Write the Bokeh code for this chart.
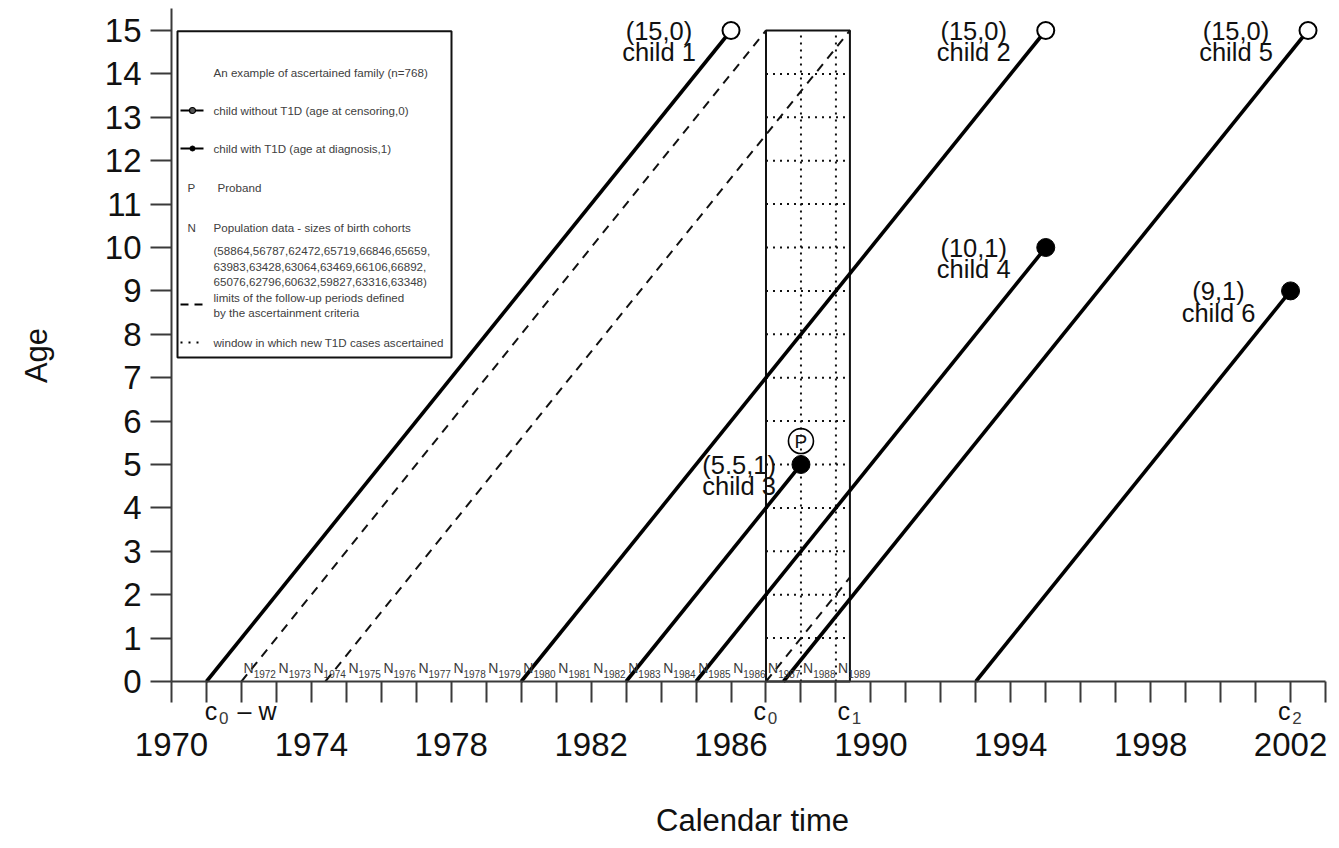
import math
from bokeh.plotting import figure
from bokeh.models import FixedTicker, Range1d
from bokeh.core.properties import value
from bokeh.embed import file_html
from bokeh.resources import INLINE

FONT = "Liberation Sans"

# ---------------- data ----------------
children = ["child 1", "child 2", "child 3", "child 4", "child 5", "child 6"]
birth_year = [1971, 1980, 1983, 1985, 1987.5, 1993]
end_age = [15, 15, 5, 10, 15, 9]
t1d_status = [0, 0, 1, 1, 0, 1]
reported_age = ["15", "15", "5.5", "10", "15", "9"]
proband_child = "child 3"

c0, c1, c2, w = 1987, 1989.4, 2002, 15

cohort_years = list(range(1972, 1990))
cohort_sizes = [58864, 56787, 62472, 65719, 66846, 65659,
                63983, 63428, 63064, 63469, 66106, 66892,
                65076, 62796, 60632, 59827, 63316, 63348]

x_ticks = list(range(1970, 2004))
x_label_years = list(range(1970, 2004, 4))
y_ticks = list(range(0, 16))

x_title = "Calendar time"
y_title = "Age"
legend_title = "An example of ascertained family (n=768)"
legend_without = "child without T1D (age at censoring,0)"
legend_with = "child with T1D (age at diagnosis,1)"
legend_proband = "Proband"
legend_pop = "Population data - sizes of birth cohorts"
legend_limits = ["limits of the follow-up periods defined", "by the ascertainment criteria"]
legend_window = "window in which new T1D cases ascertained"

# ---------------- layout (pixels) ----------------
W, H = 1339, 848
PX_X0, PX_PER_YEAR = 171, 34.97
PX_Y0, PX_PER_AGE = 681, 43.4
X_START = 1970 - PX_X0 / PX_PER_YEAR
X_END = 1970 + (W - PX_X0) / PX_PER_YEAR
Y_END = PX_Y0 / PX_PER_AGE
Y_START = -(H - PX_Y0) / PX_PER_AGE


def lx(px):
    return 1970 + (px - PX_X0) / PX_PER_YEAR


def ly(py):
    return (PX_Y0 - py) / PX_PER_AGE


INK = "#111111"
GREY = "#3a3a3a"

p = figure(width=W, height=H, x_range=Range1d(X_START, X_END), y_range=Range1d(Y_START, Y_END),
           output_backend="svg", toolbar_location=None,
           min_border_left=0, min_border_right=0, min_border_top=0, min_border_bottom=0)
p.outline_line_color = None
p.xgrid.grid_line_color = None
p.ygrid.grid_line_color = None
p.background_fill_color = "white"
p.border_fill_color = "white"

# axes (drawn at age 0 and at 1970)
xa = p.xaxis[0]
xa.fixed_location = 0
xa.ticker = FixedTicker(ticks=x_ticks)
xa.major_label_overrides = {t: (str(t) if t in x_label_years else "") for t in x_ticks}
xa.bounds = (x_ticks[0], x_ticks[-1])
ya = p.yaxis[0]
ya.fixed_location = x_ticks[0]
ya.ticker = FixedTicker(ticks=y_ticks)
ya.major_label_overrides = {t: str(t) for t in y_ticks}
ya.bounds = (0, 15.5)
for ax in (xa, ya):
    ax.minor_tick_line_color = None
    ax.major_tick_in = 0
    ax.major_tick_out = 21
    ax.major_tick_line_width = 2
    ax.major_tick_line_color = GREY
    ax.axis_line_width = 2
    ax.axis_line_color = GREY
    ax.major_label_text_font = FONT
    ax.major_label_text_font_size = "33px"
    ax.major_label_text_color = INK
xa.major_label_standoff = 30
ya.major_label_standoff = 9

# axis titles
p.text(x=[lx(752)], y=[ly(820)], text=[x_title], text_font=value(FONT), text_font_size="31px",
       text_align="center", text_baseline="middle", text_color=INK)
p.text(x=[lx(36)], y=[ly(355)], text=[y_title], text_font=value(FONT), text_font_size="31px",
       text_align="center", text_baseline="middle", text_color=INK, angle=math.pi / 2)

# ---------------- ascertainment window ----------------
p.quad(left=[c0], right=[c1], bottom=[0], top=[w], fill_color=None,
       line_color=INK, line_width=2)
inner_years = [y for y in x_ticks if c0 < y < c1]
p.segment(x0=inner_years, y0=[0] * len(inner_years), x1=inner_years, y1=[w] * len(inner_years),
          line_color=INK, line_width=2, line_dash="2 5")
inner_ages = [a for a in y_ticks if 0 < a < w]
p.segment(x0=[c0] * len(inner_ages), y0=inner_ages, x1=[c1] * len(inner_ages), y1=inner_ages,
          line_color=INK, line_width=2, line_dash="2 5")

# follow-up limits (dashed)
p.segment(x0=[c0 - w, c1 - w, c0], y0=[0, 0, 0], x1=[c0, c1, c1], y1=[w, w, c1 - c0],
          line_color=INK, line_width=2, line_dash="9 7")

# ---------------- children ----------------
end_year = [b + a for b, a in zip(birth_year, end_age)]
p.segment(x0=birth_year, y0=[0] * len(children), x1=end_year, y1=end_age,
          line_color="black", line_width=3.6)
cens_x = [x for x, s in zip(end_year, t1d_status) if s == 0]
cens_y = [a for a, s in zip(end_age, t1d_status) if s == 0]
diag_x = [x for x, s in zip(end_year, t1d_status) if s == 1]
diag_y = [a for a, s in zip(end_age, t1d_status) if s == 1]
p.scatter(x=cens_x, y=cens_y, size=17, marker="circle", fill_color="white",
          line_color="black", line_width=2)
p.scatter(x=diag_x, y=diag_y, size=18, marker="circle", fill_color="black",
          line_color="black")

label_dx = [-2.06, -2.06, -1.77, -2.06, -2.06, -2.06]
label_x = [x + d for x, d in zip(end_year, label_dx)]
line1 = ["(%s,%d)" % (r, s) for r, s in zip(reported_age, t1d_status)]
p.text(x=label_x, y=end_age, text=line1, text_font=value(FONT), text_font_size="25.5px",
       text_align="center", text_baseline="middle", text_color=INK)
p.text(x=label_x, y=[a - 0.5 for a in end_age], text=children, text_font=value(FONT),
       text_font_size="25.5px", text_align="center", text_baseline="middle", text_color=INK)

# proband marker
pi = children.index(proband_child)
p.scatter(x=[end_year[pi]], y=[end_age[pi] + 0.54], size=25, marker="circle",
          fill_color=None, line_color="black", line_width=1.6)
p.text(x=[end_year[pi]], y=[end_age[pi] + 0.54], text=["P"], text_font=value(FONT),
       text_font_size="19px", text_align="center", text_baseline="middle", text_color=INK)

# ---------------- birth cohort labels ----------------
cx = [y + 0.5 - 0.15 for y in cohort_years]
p.text(x=cx, y=[0.32] * len(cx), text=["N"] * len(cx), text_font=value(FONT),
       text_font_size="14px", text_align="right", text_baseline="middle", text_color=GREY)
p.text(x=cx, y=[0.18] * len(cx), text=[str(y) for y in cohort_years], text_font=value(FONT),
       text_font_size="10px", text_align="left", text_baseline="middle", text_color=GREY)

# ---------------- c labels under the axis ----------------
c_pos = [c0 - w, c0, c1, c2]
c_sub = ["0", "0", "1", "2"]
c_shift = [-0.69, 0, 0, 0]
p.text(x=[q + s for q, s in zip(c_pos, c_shift)], y=[-0.69] * 4, text=["c"] * 4,
       text_font=value(FONT), text_font_size="25px", text_align="right",
       text_baseline="middle", text_color=INK)
p.text(x=[q + s + 0.05 for q, s in zip(c_pos, c_shift)], y=[-0.84] * 4, text=c_sub,
       text_font=value(FONT), text_font_size="17px", text_align="left",
       text_baseline="middle", text_color=GREY)
p.text(x=[c_pos[0] - 0.11], y=[-0.69], text=["\u2013 w"], text_font=value(FONT),
       text_font_size="25px", text_align="left", text_baseline="middle", text_color=INK)

# ---------------- legend ----------------
p.quad(left=[lx(177)], right=[lx(451)], top=[ly(30.7)], bottom=[ly(357)],
       fill_color="white", line_color=INK, line_width=2)
sizes_txt = [str(s) for s in cohort_sizes]
num_lines = ["(" + ",".join(sizes_txt[0:6]) + ",",
             ",".join(sizes_txt[6:12]) + ",",
             ",".join(sizes_txt[12:18]) + ")"]
leg_items = [(213, 72, legend_title), (213, 110, legend_without), (213, 148, legend_with),
             (187, 187, "P"), (217, 187, legend_proband),
             (187, 227, "N"), (213, 227, legend_pop),
             (213, 250, num_lines[0]), (213, 266, num_lines[1]), (213, 281, num_lines[2]),
             (213, 297, legend_limits[0]), (213, 312, legend_limits[1]),
             (213, 342, legend_window)]
p.text(x=[lx(a) for a, b, t in leg_items], y=[ly(b) for a, b, t in leg_items],
       text=[t for a, b, t in leg_items], text_font=value(FONT), text_font_size="11.6px",
       text_align="left", text_baseline="middle", text_color="#404040")
p.segment(x0=[lx(180), lx(180)], y0=[ly(110), ly(148)], x1=[lx(203), lx(203)],
          y1=[ly(110), ly(148)], line_color="black", line_width=2)
p.scatter(x=[lx(192)], y=[ly(110)], size=6, fill_color="#555555", line_color="black",
          line_width=1.2)
p.scatter(x=[lx(192)], y=[ly(148)], size=5, fill_color="black", line_color="black")
p.segment(x0=[lx(180)], y0=[ly(304)], x1=[lx(204)], y1=[ly(304)], line_color="black",
          line_width=2, line_dash="8 6")
p.segment(x0=[lx(180)], y0=[ly(342)], x1=[lx(204)], y1=[ly(342)], line_color="black",
          line_width=2, line_dash="2 6")

open("out.html", "w").write(file_html(p, INLINE))
